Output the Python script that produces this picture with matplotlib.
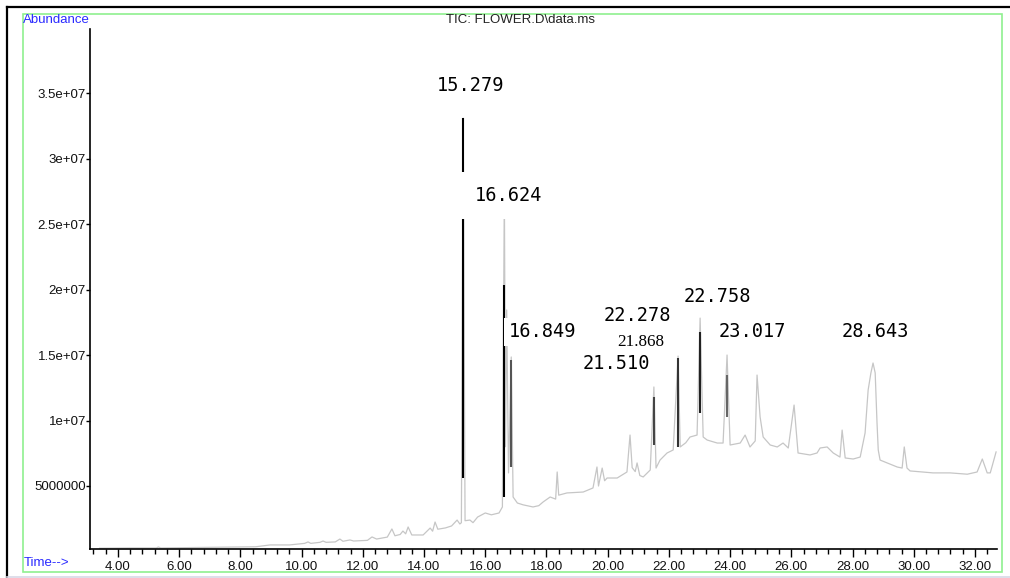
import numpy as np
import matplotlib.pyplot as plt
from matplotlib.ticker import MultipleLocator
from matplotlib.lines import Line2D
from matplotlib.patches import Rectangle

# TIC trace, time in min, abundance in millions
time_min = [3.40, 4.40, 5.25, 5.32, 5.40, 6.50, 7.50, 8.50, 8.97, 9.60,
            10.10, 10.21, 10.30, 10.60, 10.70, 10.80, 11.10, 11.25, 11.35, 11.58,
            11.70, 12.15, 12.30, 12.45, 12.80, 12.95, 13.05, 13.22, 13.31, 13.40,
            13.48, 13.60, 13.97, 14.20, 14.28, 14.36, 14.45, 14.70, 14.90, 15.08,
            15.17, 15.22, 15.279, 15.34, 15.50, 15.60, 15.75, 16.00, 16.20, 16.45,
            16.56, 16.624, 16.66, 16.70, 16.76, 16.849, 16.91, 17.05, 17.24, 17.56,
            17.75, 17.89, 18.12, 18.30, 18.35, 18.40, 18.67, 19.20, 19.52, 19.65,
            19.70, 19.82, 19.90, 19.98, 20.31, 20.63, 20.73, 20.80, 20.90, 20.96,
            21.05, 21.16, 21.39, 21.51, 21.58, 21.71, 21.94, 22.14, 22.30, 22.37,
            22.55, 22.69, 22.92, 23.02, 23.12, 23.25, 23.58, 23.77, 23.90, 24.00,
            24.33, 24.49, 24.65, 24.82, 24.88, 24.98, 25.08, 25.31, 25.54, 25.73,
            25.90, 26.09, 26.22, 26.61, 26.84, 26.94, 27.17, 27.37, 27.59, 27.66,
            27.76, 28.02, 28.25, 28.41, 28.51, 28.60, 28.67, 28.74, 28.80, 28.84,
            28.90, 29.13, 29.46, 29.62, 29.69, 29.78, 29.88, 30.63, 31.19, 31.75,
            32.07, 32.24, 32.40, 32.50, 32.69]
abund_m = [0.25, 0.27, 0.27, 0.34, 0.27, 0.30, 0.32, 0.36, 0.50, 0.50,
           0.62, 0.73, 0.62, 0.70, 0.80, 0.70, 0.73, 0.95, 0.78, 0.88,
           0.80, 0.85, 1.11, 0.95, 1.10, 1.72, 1.20, 1.30, 1.56, 1.35,
           1.87, 1.26, 1.26, 1.79, 1.55, 2.25, 1.70, 1.80, 1.95, 2.40,
           2.10, 2.20, 33.09, 2.35, 2.40, 2.20, 2.63, 2.94, 2.80, 2.94,
           3.40, 27.8, 8.0, 18.44, 6.0, 14.85, 4.16, 3.70, 3.56, 3.40,
           3.50, 3.78, 4.16, 4.00, 6.07, 4.30, 4.47, 4.54, 4.85, 6.45,
           5.00, 6.37, 5.40, 5.61, 5.61, 6.07, 8.89, 6.40, 6.10, 6.76,
           5.80, 5.69, 6.22, 12.56, 6.37, 6.98, 7.52, 7.75, 14.92, 7.98,
           8.30, 8.74, 8.89, 17.82, 8.74, 8.51, 8.28, 8.28, 15.00, 8.13,
           8.28, 8.89, 7.98, 8.44, 13.47, 10.27, 8.74, 8.13, 7.98, 8.28,
           7.90, 11.18, 7.52, 7.37, 7.52, 7.90, 7.98, 7.52, 7.21, 9.27,
           7.14, 7.06, 7.21, 9.05, 12.33, 13.63, 14.39, 13.63, 9.81, 7.75,
           6.98, 6.76, 6.45, 6.37, 7.98, 6.37, 6.15, 6.00, 6.00, 5.90,
           6.07, 7.06, 6.00, 6.00, 7.60]

# dark overlays drawn on the main peaks
mark_t = [15.279, 16.624, 16.849, 21.51, 22.30, 23.02, 23.90]
mark_lo = [5.61, 4.16, 6.45, 8.13, 7.98, 10.57, 10.27]
mark_hi = [33.09, 20.34, 14.60, 11.79, 14.77, 16.76, 13.47]
mark_col = ['black', 'black', '#555555', '#444444', '#333333', '#222222', '#666666']

peak_labels = ['15.279', '16.624', '16.849', '21.510', '22.278', '22.758', '23.017', '28.643']
label_t = [15.52, 16.76, 17.87, 20.29, 20.97, 23.58, 24.72, 28.73]
label_a = [35.61, 27.21, 16.76, 14.39, 18.05, 19.50, 16.76, 16.83]
label_pad = [0.2, 0.75, 0.25, 0.2, 0.2, 0.2, 0.2, 0.2]

ytick_vals = [5e6, 1e7, 1.5e7, 2e7, 2.5e7, 3e7, 3.5e7]
ytick_text = ['5000000', '1e+07', '1.5e+07', '2e+07', '2.5e+07', '3e+07', '3.5e+07']
xtick_vals = np.arange(4, 33, 2)

W, H = 1010, 578
def fx(x):
    return x / W
def fy(y):
    return 1 - y / H

fig = plt.figure(figsize=(W / 100, H / 100), dpi=100)
ax = fig.add_axes([fx(90), fy(549), (997 - 90) / W, (549 - 29) / H])

abund = np.array(abund_m) * 1e6
ax.plot(time_min, abund, color='#c6c6c6', lw=0.9, zorder=2)
ax.vlines(mark_t, np.array(mark_lo) * 1e6, np.array(mark_hi) * 1e6,
          colors=mark_col, lw=1.5, zorder=3)

for txt, t, a, p in zip(peak_labels, label_t, label_a, label_pad):
    ax.text(t, a * 1e6, txt, family='DejaVu Sans Mono', fontsize=13.4,
            ha='center', va='center', zorder=5,
            bbox=dict(boxstyle='square,pad=%g' % p, fc='white', ec='none'))
ax.text(21.07, 15.99e6, '21.868', family='Liberation Serif', fontsize=12.3,
        ha='center', va='center', zorder=5)

ax.set_xlim(3.086, 32.72)
ax.set_ylim(0.19e6, 39.89e6)
for s in ['top', 'right']:
    ax.spines[s].set_visible(False)
for s in ['left', 'bottom']:
    ax.spines[s].set_linewidth(1.2)

ax.set_xticks(xtick_vals)
ax.set_xticklabels(['%.2f' % v for v in xtick_vals])
ax.xaxis.set_minor_locator(MultipleLocator(0.4))
ax.set_yticks(ytick_vals)
ax.set_yticklabels(ytick_text)
ax.tick_params(axis='x', which='major', length=6, width=1, pad=3, labelsize=9.5)
ax.tick_params(axis='x', which='minor', length=3.5, width=1)
ax.tick_params(axis='y', length=3, width=1, pad=0, labelsize=9.5)
for lab in ax.get_xticklabels() + ax.get_yticklabels():
    lab.set_family('Liberation Sans')
    lab.set_color('#111111')

# page frame
fig.add_artist(Line2D([fx(7), 1], [fy(7), fy(7)], color='black', lw=1.6))
fig.add_artist(Line2D([fx(7), fx(7)], [fy(7), 0], color='black', lw=1.6))
fig.add_artist(Line2D([fx(7), 1], [fy(576.5), fy(576.5)], color='#d8d8e6', lw=1.2))
fig.add_artist(Rectangle((fx(23), fy(572)), (1002 - 23) / W, (572 - 14) / H,
                         fill=False, ec='#8ff08f', lw=1.2))

fig.text(fx(23), fy(20), 'Abundance', color='#2a2aff', family='Liberation Sans',
         fontsize=9.5, ha='left', va='center')
fig.text(fx(520), fy(20), 'TIC: FLOWER.D\\data.ms', color='#222222',
         family='Liberation Sans', fontsize=9.5, ha='center', va='center')
fig.text(fx(24), fy(563), 'Time-->', color='#2a2aff', family='Liberation Sans',
         fontsize=9.5, ha='left', va='center')

fig.savefig('out.png', dpi=100)
